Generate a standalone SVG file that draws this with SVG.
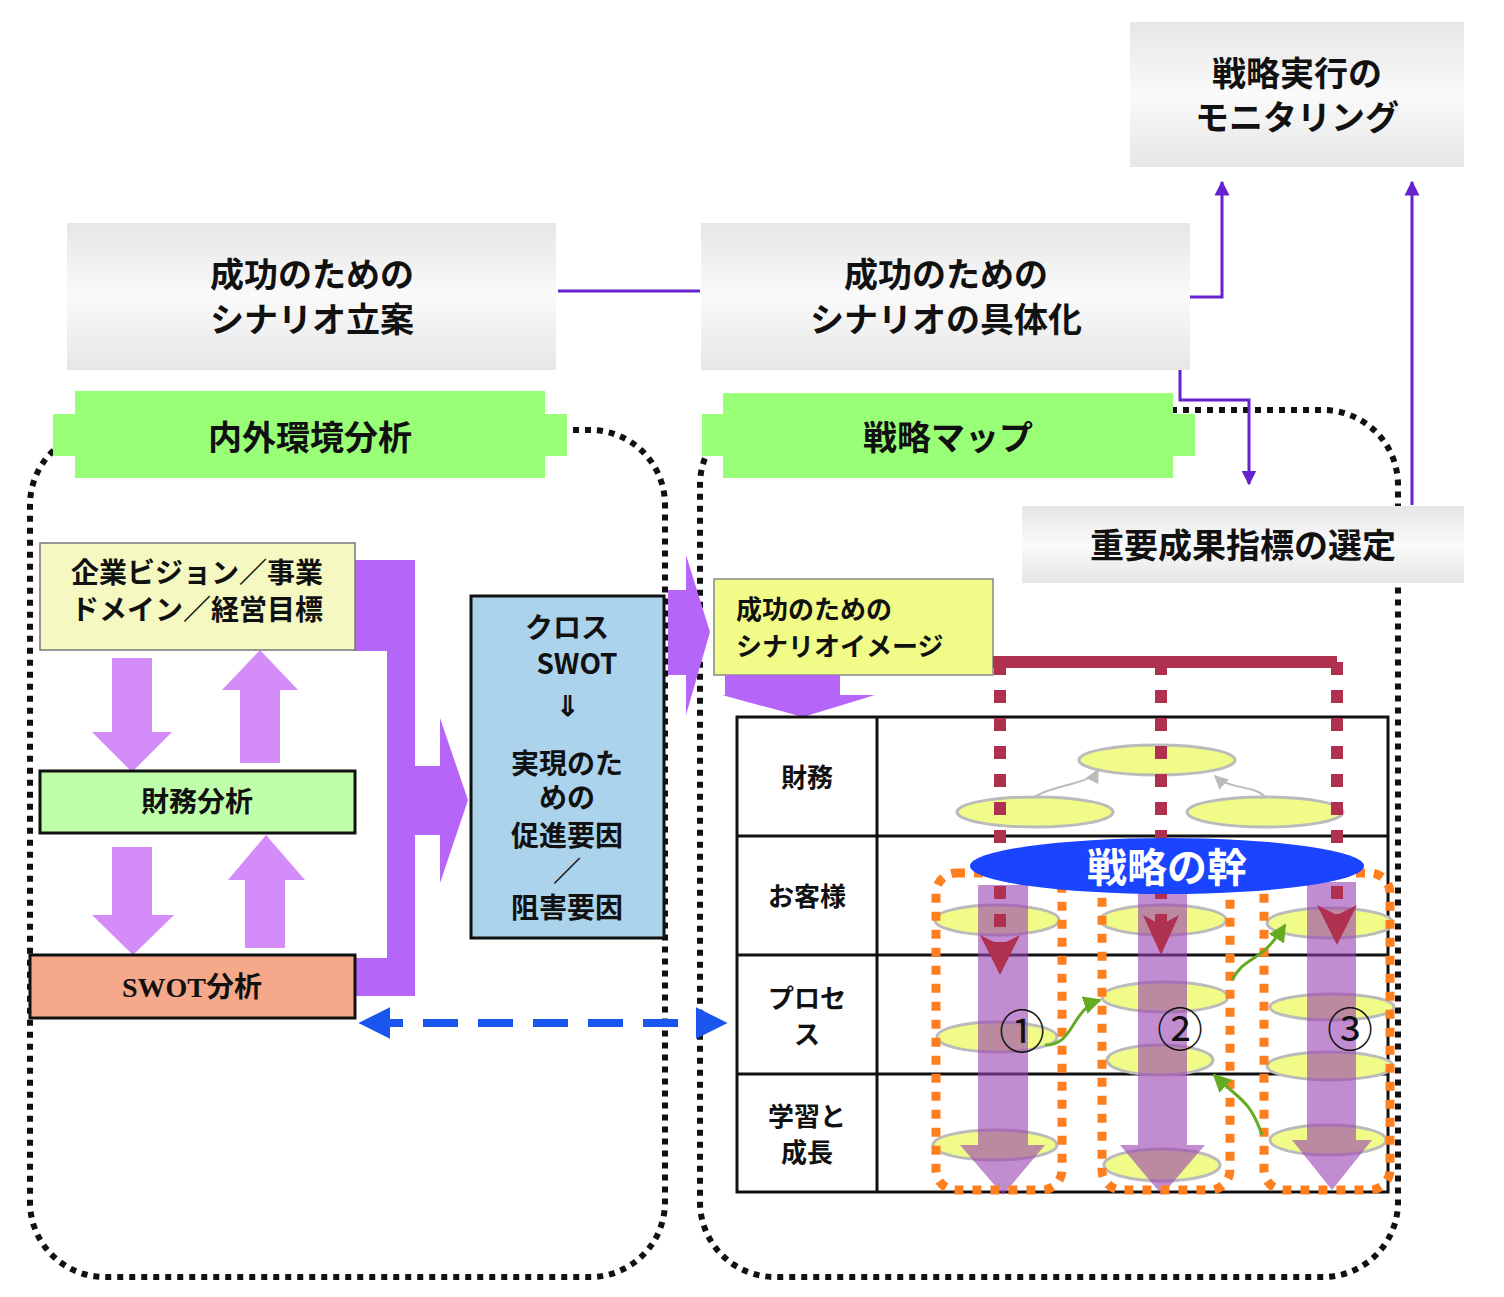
<svg xmlns="http://www.w3.org/2000/svg" width="1504" height="1297" viewBox="0 0 1504 1297">
<defs>
<linearGradient id="gg" x1="0" y1="0" x2="0" y2="1"><stop offset="0" stop-color="#e6e6e6"/><stop offset="0.5" stop-color="#fafafa"/><stop offset="1" stop-color="#e6e6e6"/></linearGradient>
<marker id="pa" viewBox="0 0 10 10" refX="9" refY="5" markerWidth="5" markerHeight="6" orient="auto"><path d="M0,0L10,5L0,10z" fill="#6622cc"/></marker>
<marker id="ga" viewBox="0 0 10 10" refX="9" refY="5" markerWidth="6" markerHeight="6" orient="auto"><path d="M0,0L10,5L0,10z" fill="#66aa22"/></marker>
<marker id="ba" viewBox="0 0 10 10" refX="7" refY="5" markerWidth="4" markerHeight="4" orient="auto-start-reverse"><path d="M0,0L10,5L0,10z" fill="#1a55ee"/></marker>
<marker id="sa" viewBox="0 0 10 10" refX="9" refY="5" markerWidth="7" markerHeight="7" orient="auto"><path d="M0,0L10,5L0,10z" fill="#bbb"/></marker>
</defs>
<style>
text{font-family:"Noto Sans CJK JP","Noto Sans",sans-serif;font-weight:bold;fill:#111;text-anchor:middle}
.gb{fill:url(#gg)}
.t34{font-size:34px}
.t28{font-size:28px}
.t26{font-size:26px}
.pl{stroke:#6622cc;stroke-width:3;fill:none}
.dot{fill:none;stroke:#111;stroke-width:6;stroke-dasharray:6,6}
.ban{fill:#99ff77}
.lp{fill:#d38cf8}
.ye{fill:#f0fb88;stroke:#bbb;stroke-width:3}
.tr{fill:#9a40b0;opacity:0.6}
.or{fill:none;stroke:#ff7f1f;stroke-width:9;stroke-dasharray:9,9}
.rd{stroke:#b03050;stroke-width:12;fill:none}
.tb{stroke:#111;stroke-width:3;fill:none}
.gr{stroke:#66aa22;stroke-width:3;fill:none}
.num{font-size:46px;font-weight:normal}
</style>
<g id="containers">
<rect x="30" y="430" width="635" height="847" rx="75" class="dot"/>
<rect x="700" y="410" width="698" height="867" rx="75" class="dot"/>
</g>
<g id="connectors">
<line x1="558" y1="291" x2="700" y2="291" class="pl"/>
<polyline points="1190,297 1222,297 1222,182" class="pl" marker-end="url(#pa)"/>
<line x1="1412" y1="505" x2="1412" y2="182" class="pl" marker-end="url(#pa)"/>
<polyline points="1180,370 1180,400 1249,400 1249,484" class="pl" marker-end="url(#pa)"/>
<line x1="368" y1="1023" x2="718" y2="1023" stroke="#1a55ee" stroke-width="8" stroke-dasharray="35,20" marker-start="url(#ba)" marker-end="url(#ba)"/>
</g>
<g id="n1"><rect x="67" y="223" width="489" height="147" class="gb"/><text x="312" y="287" class="t34">成功のための</text><text x="312" y="332" class="t34">シナリオ立案</text></g>
<g id="n2"><rect x="701" y="223" width="489" height="147" class="gb"/><text x="946" y="287" class="t34">成功のための</text><text x="946" y="332" class="t34">シナリオの具体化</text></g>
<g id="n3"><rect x="1130" y="22" width="334" height="145" class="gb"/><text x="1297" y="86" class="t34">戦略実行の</text><text x="1297" y="130" class="t34">モニタリング</text></g>
<g id="n4"><rect x="1022" y="506" width="442" height="77" class="gb"/><text x="1243" y="558" class="t34">重要成果指標の選定</text></g>
<g id="b1"><rect x="53" y="414" width="514" height="42" class="ban"/><rect x="75" y="391" width="470" height="87" class="ban"/><text x="310" y="450" class="t34">内外環境分析</text></g>
<g id="b2"><rect x="702" y="414" width="493" height="42" class="ban"/><rect x="723" y="393" width="450" height="85" class="ban"/><text x="948" y="450" class="t34">戦略マップ</text></g>
<g id="leftarrows">
<path d="M112,658H152V732H172L132,772L92,732H112Z" class="lp"/>
<path d="M240,763H280V690H298L260,650L222,690H240Z" class="lp"/>
<path d="M112,847H152V915H174L133,955L92,915H112Z" class="lp"/>
<path d="M245,948H285V880H305L266,835L228,880H245Z" class="lp"/>
<path d="M355,560H415V766H440V718L468,800L440,883V835H415V996H355V958H387V651H355Z" fill="#b566f8"/>
<path d="M668,590H686V555L710,632L686,715V675H668Z" fill="#b566f8"/>
</g>
<g id="n5"><rect x="40" y="543" width="315" height="107" fill="#f5f8c0" stroke="#777" stroke-width="1.5"/><text x="197" y="583" class="t28">企業ビジョン／事業</text><text x="197" y="620" class="t28">ドメイン／経営目標</text></g>
<g id="n6"><rect x="40" y="771" width="315" height="62" fill="#bfffaa" stroke="#111" stroke-width="3"/><text x="197" y="812" class="t28">財務分析</text></g>
<g id="n7"><rect x="30" y="955" width="325" height="63" fill="#f5a98a" stroke="#111" stroke-width="3"/><text x="192" y="997" class="t28" style="font-family:'Liberation Serif','Noto Sans CJK JP',serif">SWOT分析</text></g>
<g id="n8"><rect x="471" y="596" width="193" height="342" fill="#acd3ec" stroke="#111" stroke-width="3"/>
<text x="567" y="638" class="t28">クロス</text><text x="577" y="674" class="t28">SWOT</text><text x="567" y="716" class="t28">⇓</text><text x="567" y="774" class="t28">実現のた</text><text x="567" y="808" class="t28">めの</text><text x="567" y="846" class="t28">促進要因</text><text x="567" y="882" class="t28">／</text><text x="567" y="918" class="t28">阻害要因</text></g>
<g id="n9"><rect x="714" y="579" width="279" height="96" fill="#f0fb88" stroke="#888" stroke-width="1.5"/><text x="736" y="619" class="t26" style="text-anchor:start">成功のための</text><text x="736" y="656" class="t26" style="text-anchor:start">シナリオイメージ</text>
<path d="M725,675H840V695H875L803,717L722,695H725Z" fill="#b566f8"/></g>
<g id="table">
<rect x="737" y="717" width="651" height="475" class="tb"/>
<line x1="877" y1="717" x2="877" y2="1192" class="tb"/>
<line x1="737" y1="836" x2="1388" y2="836" class="tb"/>
<line x1="737" y1="955" x2="1388" y2="955" class="tb"/>
<line x1="737" y1="1074" x2="1388" y2="1074" class="tb"/>
<text x="807" y="787" class="t26">財務</text><text x="807" y="906" class="t26">お客様</text>
<text x="807" y="1008" class="t26">プロセ</text><text x="807" y="1044" class="t26">ス</text>
<text x="807" y="1126" class="t26">学習と</text><text x="807" y="1162" class="t26">成長</text>
</g>
<g id="map">
<ellipse cx="1157" cy="760" rx="78" ry="15" class="ye"/>
<ellipse cx="1035" cy="812" rx="78" ry="15" class="ye"/>
<ellipse cx="1265" cy="812" rx="78" ry="15" class="ye"/>
<path d="M1035,797C1050,785 1090,785 1098,770" stroke="#bbb" stroke-width="2" fill="none" marker-end="url(#sa)"/>
<path d="M1265,797C1255,785 1230,790 1215,776" stroke="#bbb" stroke-width="2" fill="none" marker-end="url(#sa)"/>
<ellipse cx="997" cy="920" rx="62" ry="15" class="ye"/>
<ellipse cx="997" cy="1037" rx="60" ry="15" class="ye"/>
<ellipse cx="995" cy="1145" rx="62" ry="15" class="ye"/>
<ellipse cx="1163" cy="920" rx="63" ry="15" class="ye"/>
<ellipse cx="1165" cy="997" rx="63" ry="15" class="ye"/>
<ellipse cx="1160" cy="1060" rx="53" ry="15" class="ye"/>
<ellipse cx="1162" cy="1165" rx="58" ry="16" class="ye"/>
<ellipse cx="1330" cy="923" rx="63" ry="15" class="ye"/>
<ellipse cx="1332" cy="1007" rx="62" ry="13" class="ye"/>
<ellipse cx="1330" cy="1066" rx="63" ry="14" class="ye"/>
<ellipse cx="1328" cy="1140" rx="58" ry="15" class="ye"/>
<path d="M978,885H1028V1145H1045L1003,1195L960,1145H978Z" class="tr"/>
<path d="M1138,885H1187V1145H1205L1162,1195L1120,1145H1138Z" class="tr"/>
<path d="M1307,882H1356V1140H1372L1332,1190L1292,1140H1307Z" class="tr"/>
<rect x="936" y="873" width="126" height="317" rx="20" class="or"/>
<rect x="1102" y="873" width="128" height="317" rx="20" class="or"/>
<rect x="1264" y="873" width="126" height="317" rx="20" class="or"/>
<path d="M993,662H1337" class="rd"/>
<path d="M1000,662V960M1161,662V930M1337,662V940" class="rd" stroke-dasharray="13,15"/>
<path d="M980,935L1000,945L1020,935L1000,975Z" fill="#b03050"/>
<path d="M1143,915L1161,925L1179,915L1161,955Z" fill="#b03050"/>
<path d="M1317,905L1337,915L1357,905L1337,945Z" fill="#b03050"/>
<ellipse cx="1167" cy="866" rx="197" ry="28" fill="#1a44ff"/>
<text x="1167" y="882" style="font-size:40px;fill:#fff">戦略の幹</text>
<text x="1022" y="1048" class="num">①</text>
<text x="1180" y="1046" class="num">②</text>
<text x="1350" y="1046" class="num">③</text>
<path d="M1045,1045C1075,1045 1070,1010 1100,1000" class="gr" marker-end="url(#ga)"/>
<path d="M1232,980C1245,955 1260,965 1285,925" class="gr" marker-end="url(#ga)"/>
<path d="M1262,1135C1250,1100 1240,1100 1214,1075" class="gr" marker-end="url(#ga)"/>
</g>
</svg>
